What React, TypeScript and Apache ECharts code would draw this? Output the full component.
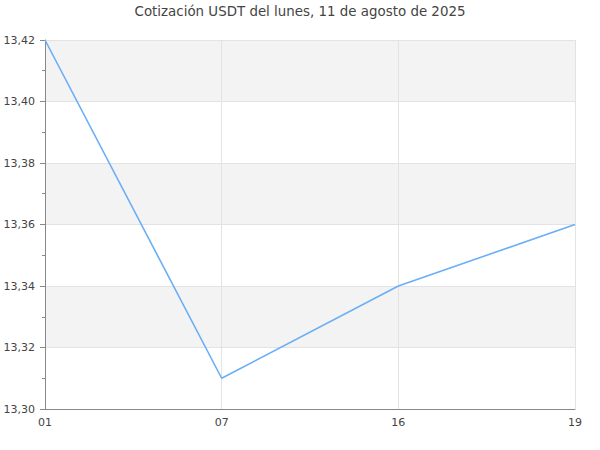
import React, { useEffect, useRef } from "react";
import * as echarts from "echarts";

const titleText = "Cotización USDT del lunes, 11 de agosto de 2025";
const categories = ["01", "07", "16", "19"];
const values = [13.42, 13.31, 13.34, 13.36];
const yMin = 13.3;
const yMax = 13.42;
const yInterval = 0.02;

export default function App() {
  const ref = useRef<HTMLDivElement>(null);
  useEffect(() => {
    if (!ref.current) return;
    const chart = echarts.init(ref.current, undefined, { renderer: "svg" });
    const font = "DejaVu Sans";
    chart.setOption({
      animation: false,
      backgroundColor: "#ffffff",
      title: {
        text: titleText,
        left: "center",
        top: 0,
        textStyle: { fontFamily: font, fontSize: 13.4, fontWeight: "normal", color: "#444" },
      },
      grid: { left: 45, right: 25, top: 40, bottom: 41, containLabel: false },
      xAxis: {
        type: "category",
        data: categories,
        boundaryGap: false,
        axisLine: { lineStyle: { color: "#888", width: 1 } },
        axisTick: { show: false },
        axisLabel: { fontFamily: font, fontSize: 11, color: "#444", margin: 8 },
        splitLine: { show: true, lineStyle: { color: "#e3e3e3", width: 1 } },
      },
      yAxis: {
        type: "value",
        min: yMin,
        max: yMax,
        interval: yInterval,
        axisLine: { show: true, lineStyle: { color: "#888", width: 1 } },
        axisTick: { show: true, length: 5, lineStyle: { color: "#888" } },
        minorTick: { show: true, splitNumber: 2, length: 3, lineStyle: { color: "#888" } },
        axisLabel: {
          fontFamily: font,
          fontSize: 11,
          color: "#444",
          margin: 10,
          formatter: (v: number) => v.toFixed(2).replace(".", ","),
        },
        splitLine: { show: true, lineStyle: { color: "#e3e3e3", width: 1 } },
        splitArea: { show: true, areaStyle: { color: ["rgba(255,255,255,0)", "#f3f3f3"] } },
      },
      series: [
        {
          type: "line",
          data: values,
          symbol: "none",
          lineStyle: { color: "#6aaff5", width: 1.6 },
        },
      ],
    });
    return () => chart.dispose();
  }, []);
  return <div ref={ref} style={{ width: 600, height: 450, position: "absolute", left: 0, top: 0 }} />;
}
